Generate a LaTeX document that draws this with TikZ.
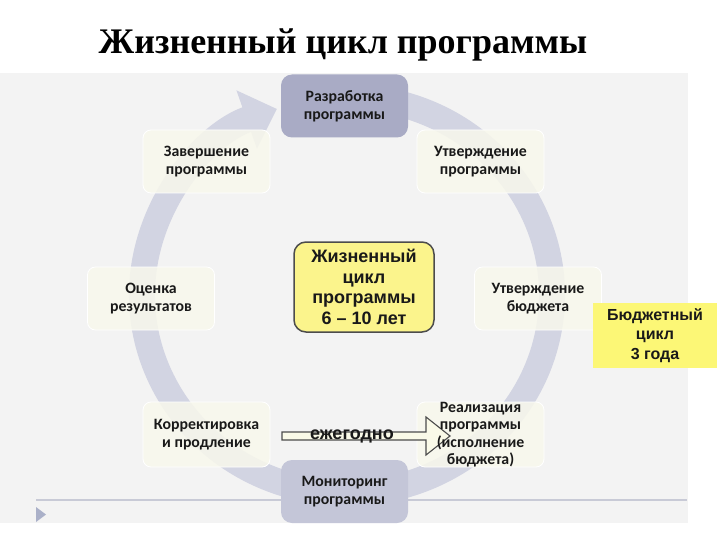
\documentclass[tikz,border=0pt]{standalone}
\usepackage{fontspec}
\setmainfont{Liberation Serif}
\newfontfamily\calfont{Carlito}
\newfontfamily\arfont{Liberation Sans}
\usetikzlibrary{arrows.meta,calc}
\definecolor{panel}{RGB}{243,243,243}
\definecolor{ringc}{RGB}{210,212,226}
\definecolor{cream}{RGB}{248,248,236}
\definecolor{topbox}{RGB}{169,171,197}
\definecolor{botbox}{RGB}{196,198,216}
\definecolor{cyel}{RGB}{251,244,140}
\definecolor{byel}{RGB}{252,247,118}
\definecolor{linec}{RGB}{200,202,214}
\definecolor{tric}{RGB}{170,176,200}
\definecolor{arrfill}{RGB}{250,250,232}
\definecolor{txt}{RGB}{25,25,25}
\begin{document}
\begin{tikzpicture}[x=1pt,y=-1pt,
  cyclebox/.style={rounded corners=8pt, minimum width=127pt, minimum height=63pt,
    fill=cream, fill opacity=0.85, text opacity=1, draw=white, line width=0.8pt,
    align=center, font=\calfont\bfseries\fontsize{15.8}{18}\selectfont, text=txt},
  keybox/.style={cyclebox, rounded corners=11pt, draw=none, fill opacity=1},
  textonly/.style={align=center, font=\calfont\bfseries\fontsize{15.8}{17.5}\selectfont, text=txt},
  ringline/.style={draw=ringc, line width=26pt},
  blockarrow/.style={draw=black!70, line width=1.1pt, fill=arrfill, line join=miter},
  yelbox/.style={align=center, text=txt, inner sep=0pt}
]
\useasboundingbox (0,0) rectangle (720,540);
\fill[white] (0,0) rectangle (720,540);
% panel
\fill[panel] (0,73) rectangle (688,523);
\coordinate (l1) at (36,500);
\coordinate (l2) at (687,500);
\draw[linec, line width=1.5pt] (l1) -- (l2);
\fill[tric] (36,507) -- (46,514.5) -- (36,522) -- cycle;
% title
\node[font=\bfseries\fontsize{36}{40}\selectfont, text=black] (title) at (343,45) {Жизненный цикл программы};
% ring
\draw[ringline, -{Triangle[width=60pt,length=32pt]}]
  (347,295) ++(-80:205 and 198) arc[start angle=-80, end angle=250, x radius=205, y radius=198];
% cycle boxes
\node[keybox, fill=topbox] (dev) at (344.5,106) {Разработка\\программы};
\node[cyclebox] (fin) at (206.5,161.5) {Завершение\\программы};
\node[cyclebox] (appr) at (480.5,161.5) {Утверждение\\программы};
\node[cyclebox] (eval) at (151,298.5) {Оценка\\результатов};
\node[cyclebox] (budg) at (538,298.5) {Утверждение\\бюджета};
\node[cyclebox, minimum height=65pt] (corr) at (206.5,434.5) {Корректировка\\и продление};
\node[cyclebox, minimum height=65pt] (real) at (480.5,434.5) {};
\node[keybox, fill=botbox] (mon) at (344.5,491.5) {Мониторинг\\программы};
% yearly arrow
\coordinate (ystart) at (282,436);
\coordinate (ytip) at (450,436);
\draw[blockarrow] ($(ystart)+(0,-4)$) -- (426,432) -- (426,417) -- (ytip) -- (426,455) -- (426,440) -- ($(ystart)+(0,4)$) -- cycle;
\node[textonly] (realtxt) at (real) {Реализация\\программы\\(исполнение\\бюджета)};
\node[font=\arfont\bfseries\fontsize{18}{20}\selectfont, text=txt] (yearly) at (352,436) {ежегодно};
% center box
\node[draw=black!70, line width=1.5pt, fill=cyel, rounded corners=12pt,
  minimum width=140pt, minimum height=90pt, yelbox,
  font=\arfont\bfseries\fontsize{18}{20.5}\selectfont] (life) at (364,287)
  {Жизненный\\цикл\\программы\\6 – 10 лет};
% budget cycle
\node[fill=byel, minimum width=124pt, minimum height=65pt, yelbox,
  font=\arfont\bfseries\fontsize{16}{19.5}\selectfont] (bcycle) at (655,335.5)
  {Бюджетный\\цикл\\3 года};
\end{tikzpicture}
\end{document}
